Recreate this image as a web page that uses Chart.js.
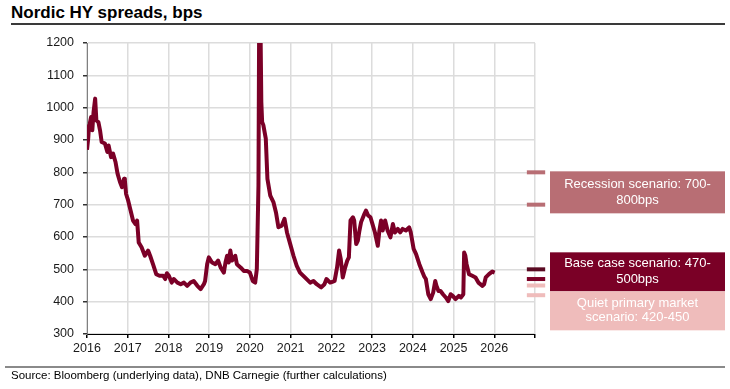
<!DOCTYPE html>
<html>
<head>
<meta charset="utf-8">
<script src="https://cdn.jsdelivr.net/npm/chart.js@4.4.1/dist/chart.umd.min.js"></script>
<style>
  html, body { margin: 0; padding: 0; background: #fff; }
  body { width: 730px; height: 389px; position: relative; overflow: hidden; font-family: "Liberation Sans", Arial, sans-serif; }
  #title { position: absolute; left: 11px; top: 3px; font-size: 17px; font-weight: bold; color: #000; white-space: nowrap; }
  #topRule { position: absolute; left: 11px; top: 23px; width: 714px; height: 2px; background: #3a3a3a; }
  #bottomRule { position: absolute; left: 5px; top: 366px; width: 720px; height: 2px; background: #8a8a8a; }
  #source { position: absolute; left: 11px; top: 369px; font-size: 11.5px; color: #000; white-space: nowrap; }
  canvas { position: absolute; left: 0; top: 0; }
</style>
</head>
<body>
<div id="title">Nordic HY spreads, bps</div>
<div id="topRule"></div>
<canvas id="spreadChart" width="730" height="389"></canvas>
<div id="bottomRule"></div>
<div id="source">Source: Bloomberg (underlying data), DNB Carnegie (further calculations)</div>
<script>
// 資料
const dates = [
  2016.00, 2016.03, 2016.05, 2016.07, 2016.10, 2016.13, 2016.16, 2016.20, 2016.23, 2016.28,
  2016.32, 2016.36, 2016.44, 2016.50, 2016.53, 2016.59, 2016.64, 2016.70, 2016.75, 2016.81,
  2016.86, 2016.91, 2016.93, 2016.96, 2017.01, 2017.07, 2017.13, 2017.19, 2017.23, 2017.27,
  2017.34, 2017.42, 2017.50, 2017.55, 2017.62, 2017.70, 2017.78, 2017.87, 2017.92, 2017.96,
  2018.01, 2018.08, 2018.13, 2018.22, 2018.30, 2018.38, 2018.46, 2018.54, 2018.62, 2018.71,
  2018.79, 2018.87, 2018.90, 2018.95, 2018.99, 2019.07, 2019.15, 2019.22, 2019.28, 2019.36,
  2019.40, 2019.44, 2019.48, 2019.52, 2019.56, 2019.64, 2019.68, 2019.77, 2019.85, 2019.93,
  2020.00, 2020.07, 2020.13, 2020.17, 2020.21, 2020.23, 2020.26, 2020.28, 2020.30, 2020.33,
  2020.39, 2020.43, 2020.50, 2020.58, 2020.64, 2020.70, 2020.78, 2020.85, 2020.91, 2020.99,
  2021.07, 2021.15, 2021.23, 2021.35, 2021.48, 2021.56, 2021.64, 2021.75, 2021.83, 2021.88,
  2021.97, 2022.04, 2022.08, 2022.14, 2022.19, 2022.23, 2022.28, 2022.34, 2022.39, 2022.43,
  2022.47, 2022.53, 2022.56, 2022.61, 2022.65, 2022.69, 2022.73, 2022.81, 2022.85, 2022.90,
  2022.96, 2023.01, 2023.07, 2023.14, 2023.18, 2023.22, 2023.26, 2023.32, 2023.38, 2023.45,
  2023.51, 2023.56, 2023.63, 2023.69, 2023.75, 2023.83, 2023.91, 2023.95, 2024.02, 2024.08,
  2024.16, 2024.24, 2024.28, 2024.32, 2024.38, 2024.44, 2024.50, 2024.55, 2024.58, 2024.63,
  2024.68, 2024.74, 2024.81, 2024.87, 2024.93, 2024.98, 2025.05, 2025.13, 2025.18, 2025.24,
  2025.26, 2025.29, 2025.32, 2025.38, 2025.46, 2025.54, 2025.61, 2025.71, 2025.75, 2025.79,
  2025.87, 2025.95, 2026.01
];
const spreads = [
   870,  905,  945,  952,  971,  930,  985, 1028,  961,  955,
   930,  894,  889,  863,  883,  847,  858,  832,  796,  770,
   754,  780,  775,  733,  713,  682,  651,  640,  651,  583,
   568,  542,  558,  542,  516,  485,  480,  480,  470,  488,
   480,  459,  470,  459,  454,  459,  449,  459,  464,  449,
   439,  454,  464,  516,  537,  521,  516,  527,  506,  490,
   521,  542,  521,  558,  527,  542,  516,  506,  495,  495,
   490,  464,  459,  501,  759, 1350, 1250, 1018,  956,  946,
   904,  780,  728,  707,  676,  630,  635,  656,  614,  578,
   542,  511,  490,  475,  459,  464,  454,  444,  454,  470,
   459,  462,  464,  506,  558,  532,  475,  506,  527,  537,
   651,  661,  651,  578,  589,  620,  646,  671,  682,  667,
   661,  640,  614,  573,  620,  651,  620,  651,  620,  599,
   640,  614,  625,  614,  625,  620,  630,  614,  563,  547,
   516,  490,  478,  470,  423,  408,  428,  464,  449,  433,
   433,  423,  413,  402,  423,  418,  408,  418,  413,  423,
   552,  542,  516,  485,  480,  475,  459,  449,  454,  475,
   485,  493,  490
];

// 情境 (scenario ranges, bps)
const scenarioLabels = [
  ['Recession scenario: 700-', '800bps'],
  ['Base case scenario: 470-', '500bps'],
  ['Quiet primary market', 'scenario: 420-450']
];
const scenarioHigh = [800, 500, 450];
const scenarioLow = [700, 470, 420];
const scenarioColors = ['#b86e74', '#7a0026', '#efbcbb'];
const scenarioHighColors = ['#b86e74', '#5a0a22', '#efbcbb'];

const yTicks = [300, 400, 500, 600, 700, 800, 900, 1000, 1100, 1200];
const xYears = [2016, 2017, 2018, 2019, 2020, 2021, 2022, 2023, 2024, 2025, 2026];

const LINE_RED = '#7b0027';
const markerFrom = 2026.8;
const markerTo = 2027.25;

// 組合資料集
const datasets = [{
  data: dates.map((d, i) => ({ x: d, y: spreads[i] })),
  borderColor: LINE_RED,
  borderWidth: 4,
  pointRadius: 0,
  tension: 0,
  borderJoinStyle: 'round'
}];

scenarioHigh.forEach((v, i) => {
  [[v, scenarioHighColors[i]], [scenarioLow[i], scenarioColors[i]]].forEach(([lvl, col]) => {
    datasets.push({
      data: [{ x: markerFrom, y: lvl }, { x: markerTo, y: lvl }],
      borderColor: col,
      borderWidth: 4,
      pointRadius: 0,
      clip: false,
      borderCapStyle: 'butt'
    });
  });
});

// 情境方塊
const scenarioBoxPlugin = {
  id: 'scenarioBoxes',
  afterDraw(chart) {
    const ctx = chart.ctx;
    const y = chart.scales.y;
    const left = chart.chartArea.right + 15;
    const width = 175;
    const boxes = [
      { top: y.getPixelForValue(scenarioHigh[0]) - 1, h: 42 },
      { top: y.getPixelForValue(scenarioHigh[1]) - 17, h: 39 },
      { top: y.getPixelForValue(scenarioHigh[1]) + 22, h: 39 }
    ];
    ctx.save();
    boxes.forEach((b, i) => {
      ctx.fillStyle = scenarioColors[i];
      ctx.fillRect(left, b.top, width, b.h);
      ctx.fillStyle = '#ffffff';
      ctx.font = '13px "Liberation Sans", Arial, sans-serif';
      ctx.textAlign = 'center';
      ctx.textBaseline = 'middle';
      const lines = scenarioLabels[i];
      const cy = b.top + b.h / 2;
      const gap = i === 2 ? 14 : 16;
      lines.forEach((t, k) => {
        ctx.fillText(t, left + width / 2, cy + (k - (lines.length - 1) / 2) * gap);
      });
    });
    ctx.restore();
  }
};

const ctx = document.getElementById('spreadChart');
new Chart(ctx, {
  type: 'line',
  data: { datasets: datasets },
  options: {
    responsive: false,
    animation: false,
    layout: { padding: { top: 43, right: 195, left: 0, bottom: 0 } },
    plugins: { legend: { display: false }, tooltip: { enabled: false } },
    scales: {
      x: {
        type: 'linear',
        min: 2016,
        max: 2027,
        afterBuildTicks: (s) => { s.ticks = xYears.concat([2027]).map(v => ({ value: v })); },
        afterFit: (s) => { s.height = 55; },
        ticks: {
          callback: (v) => xYears.includes(v) ? String(v) : '',
          color: '#1a1a1a',
          font: { size: 12.5, family: '"Liberation Sans", Arial, sans-serif' },
          padding: 3,
          maxRotation: 0,
          autoSkip: false
        },
        grid: { color: '#dcdcdc', lineWidth: 1.5, tickColor: '#000', tickLength: 4 },
        border: { color: '#000', width: 1 }
      },
      y: {
        min: 300,
        max: 1200,
        afterBuildTicks: (s) => { s.ticks = yTicks.map(v => ({ value: v })); },
        afterFit: (s) => { s.width = 87; },
        ticks: {
          callback: (v) => String(v),
          color: '#1a1a1a',
          font: { size: 12.5, family: '"Liberation Sans", Arial, sans-serif' },
          padding: 9
        },
        grid: { color: '#dcdcdc', lineWidth: 1.5, tickColor: '#333', tickLength: 4 },
        border: { color: '#808080', width: 1 }
      }
    }
  },
  plugins: [scenarioBoxPlugin]
});
</script>
</body>
</html>
